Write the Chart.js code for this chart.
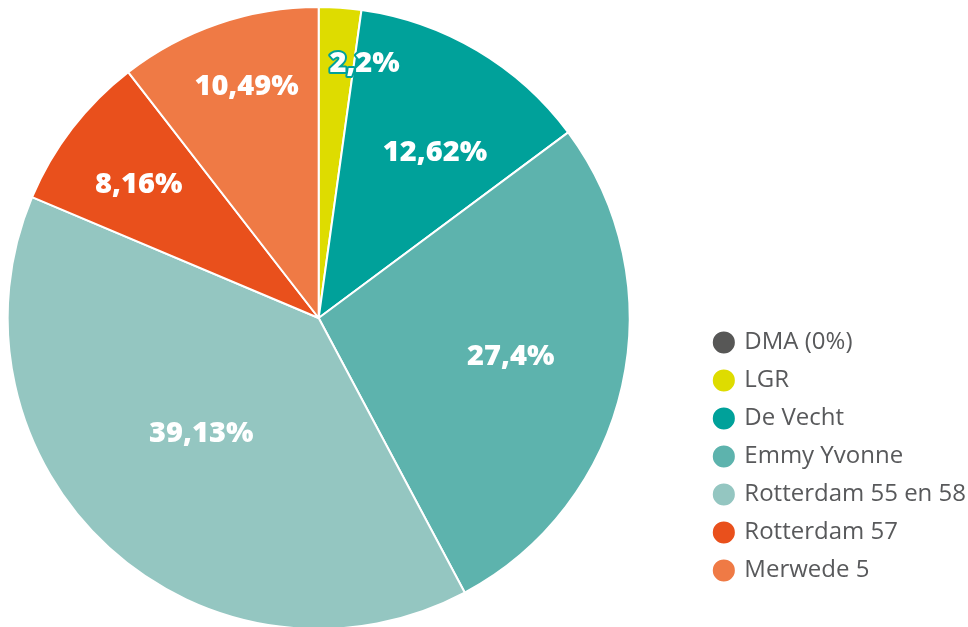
<!DOCTYPE html>
<html>
<head>
<meta charset="utf-8">
<script src="https://cdn.jsdelivr.net/npm/chart.js@4.4.1/dist/chart.umd.min.js"></script>
<style>
  html, body { margin: 0; padding: 0; background: #fff; overflow: hidden; }
  #wrap { width: 968px; height: 627px; position: relative; overflow: hidden; }
  #pieChart { position: absolute; left: -64px; top: 0; }
</style>
</head>
<body>
<div id="wrap"><canvas id="pieChart" width="1040" height="627"></canvas></div>
<script>
// data
const labels = ['DMA (0%)', 'LGR', 'De Vecht', 'Emmy Yvonne', 'Rotterdam 55 en 58', 'Rotterdam 57', 'Merwede 5'];
const shares = [0, 2.2, 12.62, 27.4, 39.13, 8.16, 10.49];
const colors = ['#575756', '#dedc00', '#00a19a', '#5db3ad', '#94c6c1', '#e9501c', '#ef7a45'];

// label placement (fraction of radius, angle shift in degrees), and optional outline
const labelPlace = [
  null,
  { r: 0.83, da: 6.3, stroke: '#00a19a' },
  { r: 0.65, da: 4.5 },
  { r: 0.63, da: -1.2 },
  { r: 0.53, da: 3 },
  { r: 0.72, da: -1 },
  { r: 0.78, da: 1.6 }
];

const sliceLabels = {
  id: 'sliceLabels',
  afterDatasetsDraw(chart) {
    const ctx = chart.ctx;
    const meta = chart.getDatasetMeta(0);
    ctx.save();
    ctx.font = '800 29px "Open Sans", sans-serif';
    ctx.textAlign = 'center';
    ctx.textBaseline = 'middle';
    meta.data.forEach((arc, i) => {
      const v = shares[i];
      const p = labelPlace[i];
      if (!v || !p) return;
      const { x, y, startAngle, endAngle, outerRadius } = arc.getProps(['x', 'y', 'startAngle', 'endAngle', 'outerRadius'], true);
      const a = (startAngle + endAngle) / 2 + p.da * Math.PI / 180;
      const lx = x + Math.cos(a) * outerRadius * p.r;
      const ly = y + Math.sin(a) * outerRadius * p.r;
      const txt = String(v).replace('.', ',') + '%';
      if (p.stroke) {
        ctx.lineWidth = 4;
        ctx.lineJoin = 'round';
        ctx.strokeStyle = p.stroke;
        ctx.strokeText(txt, lx, ly);
      }
      ctx.fillStyle = '#ffffff';
      ctx.fillText(txt, lx, ly);
    });
    ctx.restore();
  }
};

const ctx = document.getElementById('pieChart').getContext('2d');
const chart = new Chart(ctx, {
  type: 'pie',
  data: {
    labels: labels,
    datasets: [{
      data: shares,
      backgroundColor: colors,
      borderColor: '#ffffff',
      borderWidth: 2,
      radius: 311
    }]
  },
  options: {
    responsive: false,
    animation: false,
    layout: { padding: { top: 9, bottom: 0, left: 0, right: 0 } },
    plugins: {
      legend: {
        position: 'right',
        align: 'start',
        title: { display: true, text: ' ', padding: { top: 293, bottom: 0 } },
        labels: {
          usePointStyle: true,
          pointStyle: 'circle',
          boxWidth: 17,
          boxHeight: 17,
          padding: 14,
          color: '#58595b',
          font: { family: '"Open Sans", sans-serif', size: 24 }
        }
      },
      tooltip: { enabled: false }
    }
  },
  plugins: [sliceLabels]
});
</script>
</body>
</html>
